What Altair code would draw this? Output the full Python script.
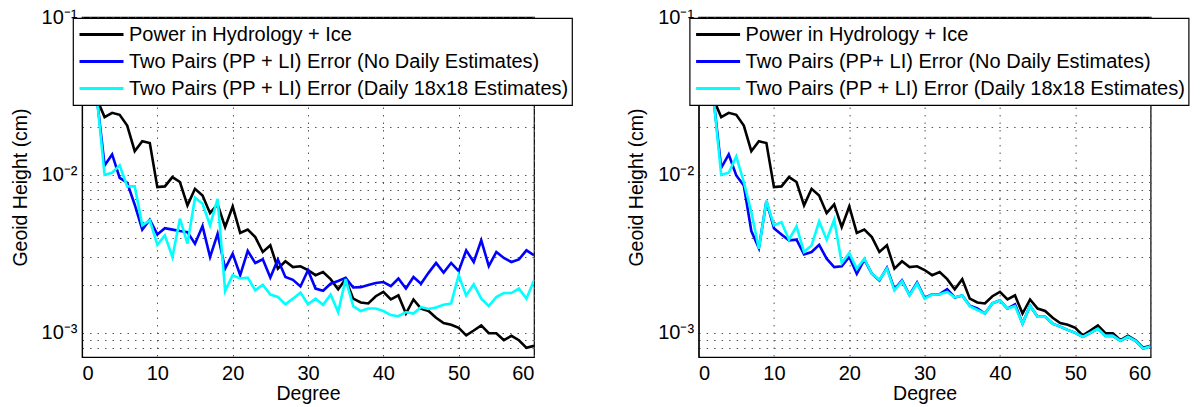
import altair as alt
import pandas as pd

# Spherical-harmonic degree axis
degrees = list(range(2, 61))

# Signal: power in hydrology + ice (same curve in both panels)
power_hydro_ice = [
    0.030, 0.0232, 0.0247, 0.0240, 0.0205, 0.0141, 0.0163, 0.0159, 0.00835, 0.00844,
    0.00967, 0.0090, 0.0064, 0.00815, 0.0074, 0.00571, 0.00649, 0.00466, 0.0063, 0.00428,
    0.00449, 0.00403, 0.00324, 0.00357, 0.00254, 0.00283, 0.0026, 0.00263, 0.00249, 0.00231,
    0.00242, 0.00218, 0.00188, 0.00218, 0.00164, 0.00155, 0.00153, 0.00170, 0.00181, 0.00162,
    0.00172, 0.00132, 0.00162, 0.00142, 0.00137, 0.00124, 0.00115, 0.00112, 0.00107, 0.00096,
    0.00103, 0.00111, 0.00099, 0.00099, 0.000894, 0.000953, 0.000894, 0.00080, 0.000824,
]

# Left panel errors
left_no_daily = [
    0.030, 0.01146, 0.01345, 0.00957, 0.0089, 0.00646, 0.00449, 0.00519, 0.00419, 0.00459,
    0.00449, 0.0044, 0.00433, 0.00366, 0.00473, 0.00301, 0.00423, 0.00254, 0.00316, 0.00231,
    0.00329, 0.00276, 0.00291, 0.00223, 0.0029, 0.00225, 0.00216, 0.00196, 0.00248, 0.0019,
    0.00184, 0.00204, 0.00212, 0.00222, 0.00193, 0.00194, 0.0020, 0.00206, 0.00209, 0.00197,
    0.0022, 0.0019, 0.00225, 0.00204, 0.00239, 0.00276, 0.0024, 0.00276, 0.00245, 0.00332,
    0.0028, 0.00384, 0.00264, 0.00324, 0.00297, 0.0028, 0.00291, 0.00332, 0.00309,
]
left_daily = [
    0.030, 0.0100, 0.0103, 0.01146, 0.00844, 0.00844, 0.00478, 0.00514, 0.0036, 0.00413,
    0.00301, 0.00527, 0.00366, 0.00715, 0.00655, 0.00478, 0.00705, 0.00183, 0.00231, 0.0022,
    0.00223, 0.00185, 0.00201, 0.00174, 0.00168, 0.00151, 0.00164, 0.00179, 0.00151, 0.00164,
    0.0015, 0.00174, 0.00135, 0.00218, 0.00147, 0.00137, 0.00142, 0.00142, 0.00137, 0.00129,
    0.00127, 0.00135, 0.00132, 0.00145, 0.00141, 0.00144, 0.0015, 0.00153, 0.00231, 0.00172,
    0.00202, 0.00164, 0.00147, 0.00168, 0.00178, 0.00178, 0.0019, 0.00164, 0.00214,
]

# Right panel errors
right_no_daily = [
    0.030, 0.01107, 0.01345, 0.0099, 0.00856, 0.0044, 0.00343, 0.00682, 0.00459, 0.00419,
    0.00384, 0.00388, 0.00313, 0.00324, 0.0036, 0.00294, 0.0026, 0.00263, 0.00301, 0.00236,
    0.0029, 0.00236, 0.00214, 0.00257, 0.00188, 0.00214, 0.00173, 0.00208, 0.00166, 0.00175,
    0.00175, 0.00188, 0.00167, 0.00172, 0.00148, 0.00142, 0.00132, 0.00153, 0.0016, 0.00142,
    0.00151, 0.00114, 0.00148, 0.00126, 0.00126, 0.00114, 0.00109, 0.00104, 0.000996, 0.00094,
    0.000996, 0.00106, 0.000953, 0.000953, 0.000886, 0.00094, 0.000886, 0.000792, 0.00082,
]
right_daily = [
    0.030, 0.0100, 0.0103, 0.01306, 0.0090, 0.00581, 0.0034, 0.00682, 0.00478, 0.00501,
    0.00388, 0.00471, 0.00324, 0.00357, 0.00507, 0.00388, 0.00519, 0.00276, 0.00319, 0.00254,
    0.00294, 0.00236, 0.00216, 0.00254, 0.00185, 0.00212, 0.00172, 0.00205, 0.00164, 0.00174,
    0.00175, 0.00181, 0.00167, 0.00172, 0.00147, 0.00139, 0.00132, 0.00153, 0.0016, 0.00142,
    0.00147, 0.00114, 0.00148, 0.00126, 0.00126, 0.00114, 0.00109, 0.00104, 0.000996, 0.00094,
    0.000996, 0.00106, 0.000953, 0.000953, 0.000886, 0.00094, 0.000886, 0.000792, 0.00082,
]

left_labels = [
    "Power in Hydrology + Ice",
    "Two Pairs (PP + LI) Error (No Daily Estimates)",
    "Two Pairs (PP + LI) Error (Daily 18x18 Estimates)",
]
right_labels = [
    "Power in Hydrology + Ice",
    "Two Pairs (PP+ LI) Error (No Daily Estimates)",
    "Two Pairs (PP + LI) Error (Daily 18x18 Estimates)",
]
line_colors = ["#000000", "#0000ff", "#00ffff"]

x_ticks = [0, 10, 20, 30, 40, 50, 60]
y_grid = [
    0.0008, 0.0009,
    0.001, 0.002, 0.003, 0.004, 0.005, 0.006, 0.007, 0.008, 0.009,
    0.01, 0.02, 0.03, 0.04, 0.05, 0.06, 0.07, 0.08, 0.09,
    0.1,
]
y_label_expr = (
    "datum.value == 0.1 ? '10⁻¹' : datum.value == 0.01 ? '10⁻²' : "
    "datum.value == 0.001 ? '10⁻³' : ''"
)

FONT = "Liberation Sans"


def long_table(labels, series):
    rows = []
    for label, values in zip(labels, series):
        for d, v in zip(degrees, values):
            rows.append({"degree": d, "value": v, "series": label})
    return pd.DataFrame(rows)


def panel(labels, series):
    return (
        alt.Chart(long_table(labels, series))
        .mark_line(strokeWidth=2.6, clip=True)
        .encode(
            x=alt.X(
                "degree:Q",
                scale=alt.Scale(domain=[0, 60], nice=False, zero=False),
                axis=alt.Axis(title="Degree", values=x_ticks, format="d"),
            ),
            y=alt.Y(
                "value:Q",
                scale=alt.Scale(type="log", domain=[0.0007, 0.1], nice=False),
                axis=alt.Axis(
                    title="Geoid Height (cm)",
                    values=y_grid,
                    labelExpr=y_label_expr,
                    minExtent=42,
                    maxExtent=42,
                    titlePadding=10,
                ),
            ),
            color=alt.Color(
                "series:N",
                scale=alt.Scale(domain=labels, range=line_colors),
                legend=alt.Legend(title=None, orient="none", legendX=-9, legendY=1),
            ),
        )
        .properties(width=452, height=340)
    )


chart = (
    alt.hconcat(
        panel(left_labels, [power_hydro_ice, left_no_daily, left_daily]),
        panel(right_labels, [power_hydro_ice, right_no_daily, right_daily]),
        spacing=164.6,
        bounds="flush",
    )
    .resolve_scale(color="independent")
    .resolve_legend(color="independent")
    .properties(padding={"left": 9, "top": 6, "right": 0, "bottom": 0})
    .configure(font=FONT)
    .configure_view(stroke="black", strokeWidth=1.2)
    .configure_axis(
        labelFont=FONT,
        labelFontSize=20,
        labelColor="black",
        labelPadding=5,
        titleFont=FONT,
        titleFontSize=19.5,
        titleFontWeight="normal",
        titleColor="black",
        ticks=False,
        domainColor="black",
        domainWidth=1.2,
        grid=True,
        gridColor="#555555",
        gridDash=[1.5, 6],
        gridWidth=1,
        gridOpacity=1,
    )
    .configure_axisX(labelPadding=6, titlePadding=1)
    .configure_legend(
        symbolType="stroke",
        symbolSize=1936,
        symbolStrokeWidth=3,
        symbolOffset=2,
        clipHeight=27,
        rowPadding=0,
        labelFont=FONT,
        labelFontSize=20,
        labelColor="black",
        labelLimit=0,
        labelOffset=4,
        fillColor="white",
        strokeColor="black",
        strokeWidth=1.2,
        padding=3,
    )
)

chart.save("out.html", embed_options={"renderer": "svg", "actions": False})
